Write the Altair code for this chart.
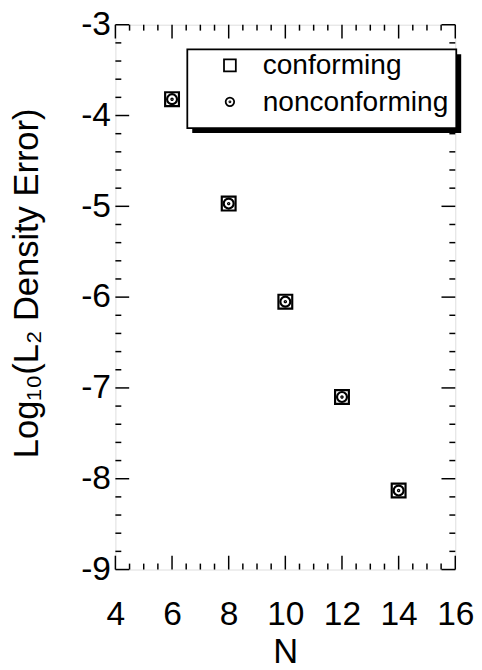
import altair as alt
import pandas as pd
import numpy as np

# ---- data ----
N_values = [6, 8, 10, 12, 14]
conforming = [-3.82, -4.97, -6.05, -7.10, -8.13]
nonconforming = [-3.82, -4.97, -6.05, -7.10, -8.13]
series_names = ["conforming", "nonconforming"]

x_major = [4, 6, 8, 10, 12, 14, 16]
y_major = [-9, -8, -7, -6, -5, -4, -3]
x_minor = [v for v in np.arange(4, 16.001, 0.5) if abs(v - round(v / 2) * 2) > 1e-6]
y_minor = [round(v, 1) for v in np.arange(-9, -2.999, 0.2) if abs(v - round(v)) > 1e-6]

W, H = 345, 553
FONT = "Liberation Sans"
DOT_CIRCLE = ("M-0.72,0A0.72,0.72,0,1,1,0.72,0A0.72,0.72,0,1,1,-0.72,0Z "
              "M-0.09,0A0.09,0.09,0,1,1,0.09,0A0.09,0.09,0,1,1,-0.09,0Z")

# legend frame (pixels inside the plot area) and its drop shadow offset
LEG_X0, LEG_X1, LEG_Y0, LEG_Y1, SHADOW = 73, 346, 25, 105, 5

pts = pd.DataFrame({
    "N": N_values * 2,
    "err": conforming + nonconforming,
    "series": [series_names[0]] * len(N_values) + [series_names[1]] * len(N_values),
})

xs = alt.Scale(domain=[4, 16], nice=False, zero=False)
ys = alt.Scale(domain=[-9, -3], nice=False, zero=False)
lbl = "datum.value < 0 ? '-' + abs(datum.value) : '' + datum.value"

points = alt.Chart(pts).mark_point(size=196, strokeWidth=2.2, filled=False, color="black", opacity=1).encode(
    x=alt.X("N:Q", scale=xs, axis=alt.Axis(
        values=x_major, title="N", grid=False, ticks=False, tickSize=0, domain=False,
        labelFontSize=34, labelFont=FONT, labelColor="black", labelBaseline="alphabetic",
        labelPadding=56, labelFlush=False,
        titleFontSize=35, titleFont=FONT, titleFontWeight="normal", titleColor="black",
        titleBaseline="alphabetic", titleY=94)),
    y=alt.Y("err:Q", scale=ys, axis=alt.Axis(
        values=y_major, title="Log₁₀(L₂ Density Error)", grid=False, ticks=False, tickSize=0,
        domain=False, labelExpr=lbl, labelFontSize=34, labelFont=FONT, labelColor="black",
        labelPadding=5, labelFlush=False,
        titleFontSize=35, titleFont=FONT, titleFontWeight="normal", titleColor="black",
        titleAngle=270, titleBaseline="alphabetic", titleX=-79, titleY=262)),
    shape=alt.Shape("series:N", scale=alt.Scale(domain=series_names, range=["square", DOT_CIRCLE]),
                    legend=alt.Legend(
                        title=None, orient="none", legendX=73, legendY=21,
                        padding=6, symbolOffset=23, labelOffset=19, rowPadding=8,
                        symbolSize=144, symbolStrokeWidth=1.8, symbolStrokeColor="black",
                        symbolFillColor="white", symbolType="square",
                        labelFontSize=28.5, labelFont=FONT, labelColor="black", labelLimit=400)),
)

one = pd.DataFrame({"a": [0]})
shadow = alt.Chart(one).mark_rect(color="black").encode(
    x=alt.value(LEG_X0 + SHADOW), x2=alt.value(LEG_X1 + SHADOW),
    y=alt.value(LEG_Y0 + SHADOW), y2=alt.value(LEG_Y1 + SHADOW)
)
box = alt.Chart(one).mark_rect(fill="white", stroke="black", strokeWidth=1.8).encode(
    x=alt.value(LEG_X0), x2=alt.value(LEG_X1), y=alt.value(LEG_Y0), y2=alt.value(LEG_Y1)
)

def tick_layer(values, axis, length):
    df = pd.DataFrame({"v": values})
    base = alt.Chart(df).mark_rule(color="black", strokeWidth=1.5)
    if axis == "x":
        bottom = base.encode(x=alt.X("v:Q", scale=xs), y=alt.value(H), y2=alt.value(H - length))
        top = base.encode(x=alt.X("v:Q", scale=xs), y=alt.value(0), y2=alt.value(length))
        return [bottom, top]
    left = base.encode(y=alt.Y("v:Q", scale=ys), x=alt.value(0), x2=alt.value(length))
    right = base.encode(y=alt.Y("v:Q", scale=ys), x=alt.value(W), x2=alt.value(W - length))
    return [left, right]

ticks = (tick_layer(x_major, "x", 14) + tick_layer(x_minor, "x", 6)
         + tick_layer(y_major, "y", 14) + tick_layer(y_minor, "y", 6))

chart = alt.layer(*ticks, shadow, box, points).properties(
    width=W, height=H,
    padding={"left": 109, "top": 12, "right": 19, "bottom": 96},
    autosize=alt.AutoSizeParams(type="none"),
).configure_view(stroke="black", strokeWidth=1.8).configure(background="white")

chart.save("out.html", embed_options={"renderer": "svg", "actions": False})
